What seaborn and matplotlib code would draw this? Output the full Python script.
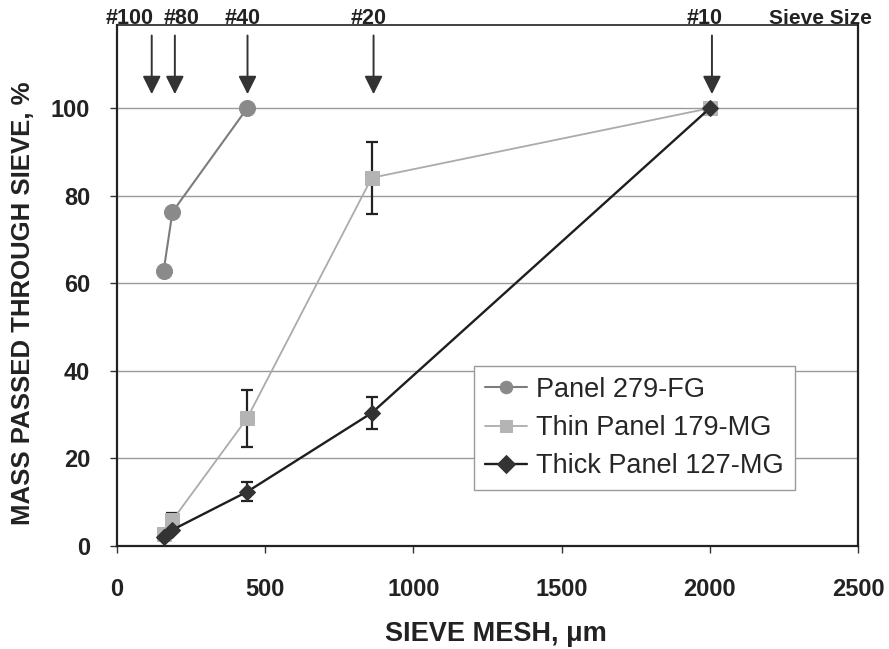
import matplotlib
matplotlib.use("Agg")
import matplotlib.pyplot as plt
import seaborn as sns
import pandas as pd

# ---- data ----
sieve_fg = [158, 188, 440]
pass_fg = [62.8, 76.3, 100.0]

sieve_thin = [158, 188, 440, 860, 2000]
pass_thin = [2.7, 5.9, 29.2, 84.1, 100.0]
err_thin = [0.0, 1.6, 6.5, 8.2, 0.0]

sieve_thick = [158, 188, 440, 860, 2000]
pass_thick = [2.1, 3.7, 12.4, 30.4, 100.0]
err_thick = [0.0, 0.0, 2.2, 3.6, 0.0]

series_names = ["Panel 279-FG", "Thin Panel 179-MG", "Thick Panel 127-MG"]

arrow_labels = ["#100", "#80", "#40", "#20", "#10"]
arrow_x = [118, 196, 441, 866, 2007]
label_x = [45, 217, 423, 851, 1984]

x_ticks = [0, 500, 1000, 1500, 2000, 2500]
y_ticks = [0, 20, 40, 60, 80, 100]

# ---- style ----
sns.set_style("white")
plt.rcParams["font.family"] = ["Liberation Sans", "DejaVu Sans"]

fig = plt.figure(figsize=(8.89, 6.49), dpi=100)
ax = fig.add_axes([0.1313, 0.1587, 0.8340, 0.8028])

df_fg = pd.DataFrame({"x": sieve_fg, "y": pass_fg})
df_thin = pd.DataFrame({"x": sieve_thin, "y": pass_thin})
df_thick = pd.DataFrame({"x": sieve_thick, "y": pass_thick})

# error bars (drawn first, under markers)
ax.errorbar(sieve_thin, pass_thin, yerr=err_thin, fmt="none", ecolor="#222222",
            elinewidth=1.6, capsize=4.3, capthick=1.6, zorder=2)
ax.errorbar(sieve_thick, pass_thick, yerr=err_thick, fmt="none", ecolor="#222222",
            elinewidth=1.6, capsize=4.3, capthick=1.6, zorder=2)

sns.lineplot(data=df_fg, x="x", y="y", ax=ax, color="#7c7c7c", lw=1.5,
             marker="o", markersize=11.5, markerfacecolor="#8a8a8a",
             markeredgecolor="#8a8a8a", label=series_names[0], zorder=3)
sns.lineplot(data=df_thin, x="x", y="y", ax=ax, color="#ababab", lw=1.3,
             marker="s", markersize=10.5, markerfacecolor="#b4b4b4",
             markeredgecolor="#b4b4b4", label=series_names[1], zorder=3)
sns.lineplot(data=df_thick, x="x", y="y", ax=ax, color="#1e1e1e", lw=1.7,
             marker="D", markersize=8.5, markerfacecolor="#333333",
             markeredgecolor="#333333", label=series_names[2], zorder=4)

ax.set_xlim(0, 2500)
ax.set_ylim(0, 119)
ax.set_xticks(x_ticks)
ax.set_yticks(y_ticks)
ax.set_xticklabels([str(v) for v in x_ticks], fontsize=17, fontweight="bold")
ax.set_yticklabels([str(v) for v in y_ticks], fontsize=17, fontweight="bold")
ax.yaxis.grid(True, color="#9a9a9a", lw=1.0)
ax.xaxis.grid(False)
ax.tick_params(axis="both", direction="out", length=5, width=1, color="#333333",
               pad=14, labelcolor="#222222", bottom=True, left=True)
ax.tick_params(axis="x", pad=18)
for s in ax.spines.values():
    s.set_color("#222222")
    s.set_linewidth(1.6)
ax.spines["top"].set_linewidth(1.2)

ax.set_xlabel("SIEVE MESH, \u03bcm", fontsize=19.5, fontweight="bold",
              color="#222222")
ax.set_ylabel("MASS PASSED THROUGH SIEVE, %", fontsize=18.5, fontweight="bold",
              color="#222222")
ax.xaxis.set_label_coords(0.512, -0.143)
ax.yaxis.set_label_coords(-0.1105, 0.466)

# sieve size arrows & labels
for lab, xa, xl in zip(arrow_labels, arrow_x, label_x):
    ax.annotate("", xy=(xa, 103.2), xytext=(xa, 116.6),
                arrowprops=dict(arrowstyle="-|>,head_length=1.1,head_width=0.55",
                                color="#333333", lw=1.4, shrinkA=0, shrinkB=0),
                annotation_clip=False, zorder=5)
    ax.text(xl, 119.3, lab, ha="center", va="baseline", fontsize=15.5,
            fontweight="bold", color="#222222", clip_on=False)
ax.text(2372, 119.3, "Sieve Size", ha="center", va="baseline", fontsize=15,
        fontweight="bold", color="#222222", clip_on=False)

leg = ax.legend(loc="upper left", bbox_to_anchor=(0.482, 0.3455), fontsize=19.5,
                frameon=True, fancybox=False, edgecolor="#9a9a9a",
                handlelength=1.55, handletextpad=0.35, borderpad=0.4,
                labelspacing=0.45, borderaxespad=0, framealpha=1)
leg.get_frame().set_linewidth(1.0)
for h in leg.legend_handles:
    h.set_markersize(9)

fig.savefig("out.png", dpi=100)
